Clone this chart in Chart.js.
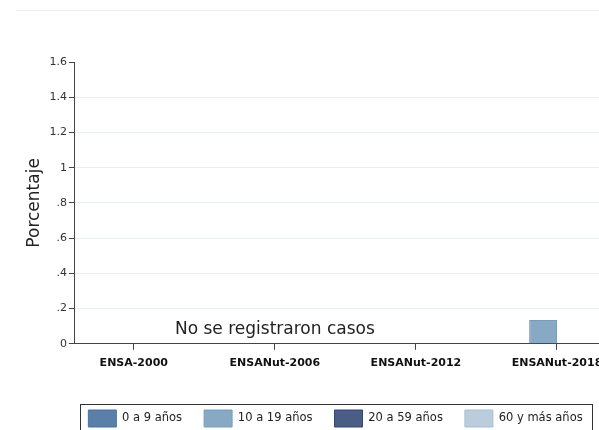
<!DOCTYPE html>
<html>
<head>
<meta charset="utf-8">
<script src="https://cdn.jsdelivr.net/npm/chart.js@4/dist/chart.umd.min.js"></script>
<style>
  html, body { margin: 0; padding: 0; background: #fff; overflow: hidden; }
  .wrap { position: relative; width: 599px; height: 430px; overflow: hidden; }
  .topLine { position: absolute; top: 10px; left: 16px; right: 0; border-top: 1px solid #eeeeee; }
  canvas { position: absolute; left: 0; top: 0; }
</style>
</head>
<body>
<div class="wrap">
  <div class="topLine"></div>
  <canvas id="chart" width="672" height="437"></canvas>
</div>
<script>
// Encuestas (eje x)
const categorias = ['ENSA-2000', 'ENSANut-2006', 'ENSANut-2012', 'ENSANut-2018'];

// Grupos de edad y sus valores (porcentaje)
const grupos = ['0 a 9 años', '10 a 19 años', '20 a 59 años', '60 y más años'];
const edad0a9 = [null, null, null, null];
const edad10a19 = [null, null, null, 0.135];
const edad20a59 = [null, null, null, null];
const edad60mas = [null, null, null, null];

const colores = ['#5a7fa8', '#88a9c4', '#4a5d85', '#b9cddc'];
const bordes = ['#4d7199', '#7b9cb8', '#34466c', '#a9c0d2'];

const yTicks = [0, 0.2, 0.4, 0.6, 0.8, 1, 1.2, 1.4, 1.6];

// Nota sobre la encuesta sin casos
const nota = 'No se registraron casos';
const notaX = 2;
const notaY = 0.08;

const fuente = "'DejaVu Sans', 'Open Sans', sans-serif";

const series = [edad0a9, edad10a19, edad20a59, edad60mas];

const toPoints = vals => categorias.map((c, i) => ({ x: i + 1, y: vals[i] }));

// Dibuja la nota y el recuadro de la leyenda
const extras = {
  id: 'extras',
  afterDraw(chart) {
    const ctx = chart.ctx;
    const { x, y } = chart.scales;
    ctx.save();
    ctx.font = "17px " + fuente;
    ctx.fillStyle = '#222';
    ctx.textAlign = 'center';
    ctx.textBaseline = 'middle';
    ctx.fillText(nota, x.getPixelForValue(notaX), y.getPixelForValue(notaY));

    const boxes = chart.legend.legendHitBoxes;
    if (boxes && boxes.length) {
      const last = boxes[boxes.length - 1];
      const left = boxes[0].left - 8;
      const right = last.left + last.width + 10;
      const top = boxes[0].top - 6;
      ctx.strokeStyle = '#333';
      ctx.lineWidth = 1;
      ctx.strokeRect(Math.round(left) + 0.5, Math.round(top) + 0.5, Math.round(right - left), 40);
    }
    ctx.restore();
  }
};

new Chart(document.getElementById('chart').getContext('2d'), {
  type: 'bar',
  data: {
    datasets: grupos.map((g, k) => ({
      label: g,
      data: toPoints(series[k]),
      backgroundColor: colores[k],
      borderColor: bordes[k],
      borderWidth: 1,
      categoryPercentage: 0.79,
      barPercentage: 1
    }))
  },
  options: {
    responsive: false,
    animation: false,
    layout: { padding: { top: 62, left: 24, right: 25, bottom: 0 } },
    scales: {
      x: {
        type: 'linear',
        offset: false,
        min: 0.5825,
        max: 4.638,
        afterBuildTicks: scale => {
          scale.ticks = categorias.map((c, i) => ({ value: i + 1 }));
        },
        afterFit: scale => { scale.height += 11; },
        ticks: {
          autoSkip: false,
          maxRotation: 0,
          padding: 7,
          color: '#111',
          font: { family: fuente, size: 11, weight: 'bold' },
          callback: v => categorias[v - 1]
        },
        grid: { offset: false, drawOnChartArea: false, tickLength: 6, color: '#444' },
        border: { color: '#444', width: 1 }
      },
      y: {
        min: 0,
        max: 1.6,
        afterBuildTicks: scale => {
          scale.ticks = yTicks.map(v => ({ value: v }));
        },
        ticks: {
          padding: 2,
          color: '#333',
          font: { family: fuente, size: 11 },
          callback: v => (v > 0 && v < 1 ? String(v).replace(/^0/, '') : String(v))
        },
        grid: {
          tickLength: 6,
          tickColor: '#444',
          color: ctx => (ctx.tick && (ctx.tick.value === 0 || ctx.tick.value === 1.6) ? 'rgba(0,0,0,0)' : '#e8eef1')
        },
        border: { color: '#444', width: 1 },
        title: {
          display: true,
          text: 'Porcentaje',
          color: '#222',
          font: { family: fuente, size: 17 },
          padding: { top: 0, bottom: 3 }
        }
      }
    },
    plugins: {
      legend: {
        position: 'bottom',
        labels: {
          boxWidth: 28,
          boxHeight: 17,
          padding: 22,
          color: '#222',
          font: { family: fuente, size: 11.5 }
        }
      },
      tooltip: { enabled: false }
    }
  },
  plugins: [extras]
});
</script>
</body>
</html>
